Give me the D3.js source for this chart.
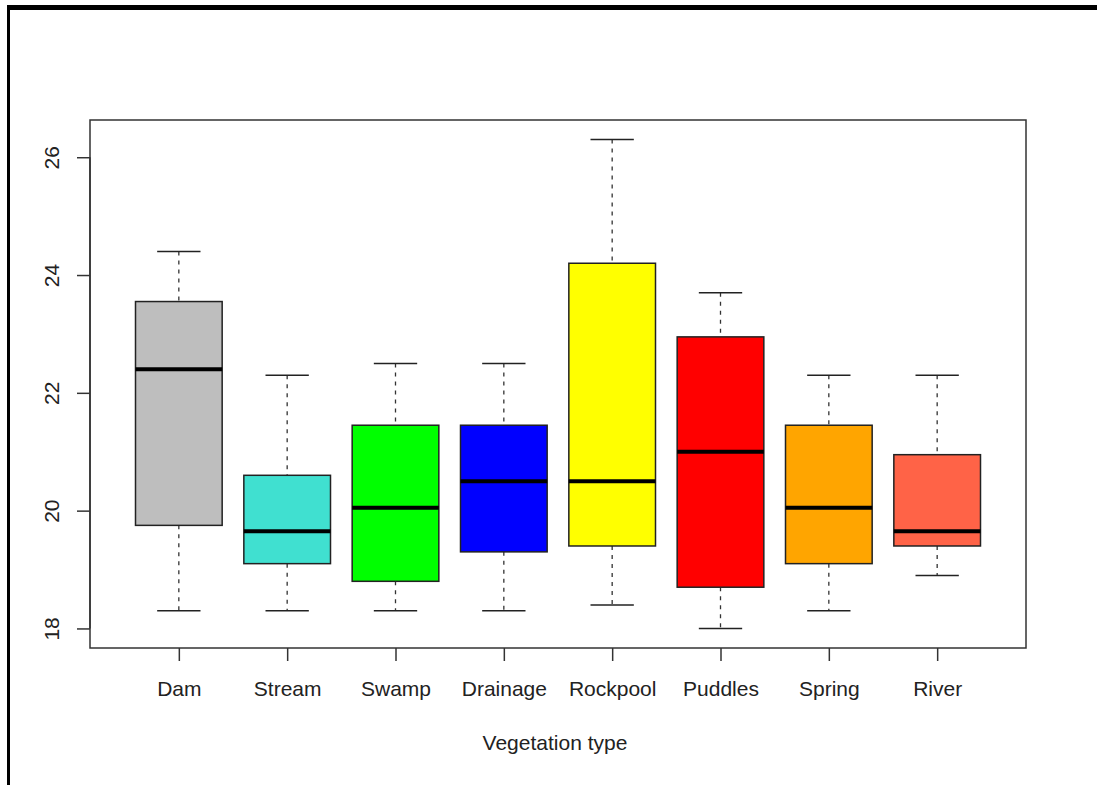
<!DOCTYPE html>
<html>
<head>
<meta charset="utf-8">
<script src="https://cdn.jsdelivr.net/npm/d3@7"></script>
<style>
  body { margin: 0; background: #fff; }
  text { font-family: "Liberation Sans", Arial, sans-serif; fill: #222; }
</style>
</head>
<body>
<div id="container"></div>
<script>
const categories = ["Dam", "Stream", "Swamp", "Drainage", "Rockpool", "Puddles", "Spring", "River"];
const lowWhisker = [18.3, 18.3, 18.3, 18.3, 18.4, 18.0, 18.3, 18.9];
const q1 = [19.75, 19.1, 18.8, 19.3, 19.4, 18.7, 19.1, 19.4];
const median = [22.4, 19.65, 20.05, 20.5, 20.5, 21.0, 20.05, 19.65];
const q3 = [23.55, 20.6, 21.45, 21.45, 24.2, 22.95, 21.45, 20.95];
const highWhisker = [24.4, 22.3, 22.5, 22.5, 26.3, 23.7, 22.3, 22.3];
const boxColors = ["#bebebe", "#40e0d0", "#00ff00", "#0000ff", "#ffff00", "#ff0000", "#ffa500", "#ff6347"];
const yTicks = [18, 20, 22, 24, 26];

const W = 1097, H = 785;
const plot = { left: 90, top: 120, right: 1026, bottom: 648 };

const svg = d3.select('#container')
    .append('svg')
        .attr('width', W)
        .attr('height', H);

// frame bits around the screenshot
svg.append('rect').attr('x', 7).attr('y', 5).attr('width', W - 7).attr('height', 5).attr('fill', '#000');
svg.append('rect').attr('x', 7).attr('y', 5).attr('width', 3).attr('height', H - 5).attr('fill', '#000');

var x = d3.scalePoint()
    .domain(categories)
    .range([plot.left, plot.right])
    .padding(0.82);

var y = d3.scaleLinear()
    .domain([17.668, 26.632])
    .range([plot.bottom, plot.top]);

const step = x.step();

var data = categories.map((c, i) => ({
    name: c,
    lo: lowWhisker[i], q1: q1[i], med: median[i], q3: q3[i], hi: highWhisker[i],
    color: boxColors[i]
}));

var boxes = svg.selectAll('g.box')
    .data(data)
    .enter()
    .append('g')
        .attr('class', 'box');

// whiskers (dashed)
boxes.append('line')
    .attr('x1', d => x(d.name)).attr('x2', d => x(d.name))
    .attr('y1', d => y(d.hi)).attr('y2', d => y(d.q3))
    .attr('stroke', '#333').attr('stroke-width', 1.3).attr('stroke-dasharray', '4,5');
boxes.append('line')
    .attr('x1', d => x(d.name)).attr('x2', d => x(d.name))
    .attr('y1', d => y(d.q1)).attr('y2', d => y(d.lo))
    .attr('stroke', '#333').attr('stroke-width', 1.3).attr('stroke-dasharray', '4,5');

// whisker caps
boxes.selectAll('line.cap')
    .data(d => [{ name: d.name, v: d.hi }, { name: d.name, v: d.lo }])
    .enter()
    .append('line')
        .attr('class', 'cap')
        .attr('x1', d => x(d.name) - step * 0.2)
        .attr('x2', d => x(d.name) + step * 0.2)
        .attr('y1', d => y(d.v)).attr('y2', d => y(d.v))
        .attr('stroke', '#222').attr('stroke-width', 1.5);

// boxes
boxes.append('rect')
    .attr('x', d => x(d.name) - step * 0.4)
    .attr('width', step * 0.8)
    .attr('y', d => y(d.q3))
    .attr('height', d => y(d.q1) - y(d.q3))
    .attr('fill', d => d.color)
    .attr('stroke', '#222')
    .attr('stroke-width', 1.5);

// medians
boxes.append('line')
    .attr('x1', d => x(d.name) - step * 0.4)
    .attr('x2', d => x(d.name) + step * 0.4)
    .attr('y1', d => y(d.med)).attr('y2', d => y(d.med))
    .attr('stroke', '#000').attr('stroke-width', 4);

// plot frame
svg.append('rect')
    .attr('x', plot.left).attr('y', plot.top)
    .attr('width', plot.right - plot.left)
    .attr('height', plot.bottom - plot.top)
    .attr('fill', 'none')
    .attr('stroke', '#333')
    .attr('stroke-width', 1.5);

// y axis
const yAxis = svg.append('g')
    .attr('transform', `translate(${plot.left},0)`)
    .call(d3.axisLeft(y).tickValues(yTicks).tickSize(13).tickPadding(0).tickFormat(d3.format('d')));
yAxis.select('.domain').attr('stroke', '#333').attr('stroke-width', 1.5)
    .attr('d', `M0,${y(18)}V${y(26)}`);
yAxis.selectAll('.tick line').attr('stroke', '#333').attr('stroke-width', 1.5);
yAxis.selectAll('.tick text')
    .attr('x', null).attr('dy', null)
    .attr('text-anchor', 'middle')
    .attr('transform', 'translate(-38,0) rotate(-90)')
    .attr('dy', '0.35em')
    .style('font-size', '21px')
    .style('font-family', '"Liberation Sans", Arial, sans-serif')
    .attr('fill', '#222');

// x axis
const xAxis = svg.append('g')
    .attr('transform', `translate(0,${plot.bottom})`)
    .call(d3.axisBottom(x).tickSize(13).tickPadding(20));
xAxis.select('.domain').remove();
xAxis.selectAll('.tick line').attr('stroke', '#333').attr('stroke-width', 1.5);
xAxis.selectAll('.tick text')
    .style('font-size', '21px')
    .style('font-family', '"Liberation Sans", Arial, sans-serif')
    .attr('fill', '#222');

svg.append('text')
    .attr('x', 555)
    .attr('y', 750)
    .attr('text-anchor', 'middle')
    .style('font-size', '21px')
    .text('Vegetation type');
</script>
</body>
</html>
